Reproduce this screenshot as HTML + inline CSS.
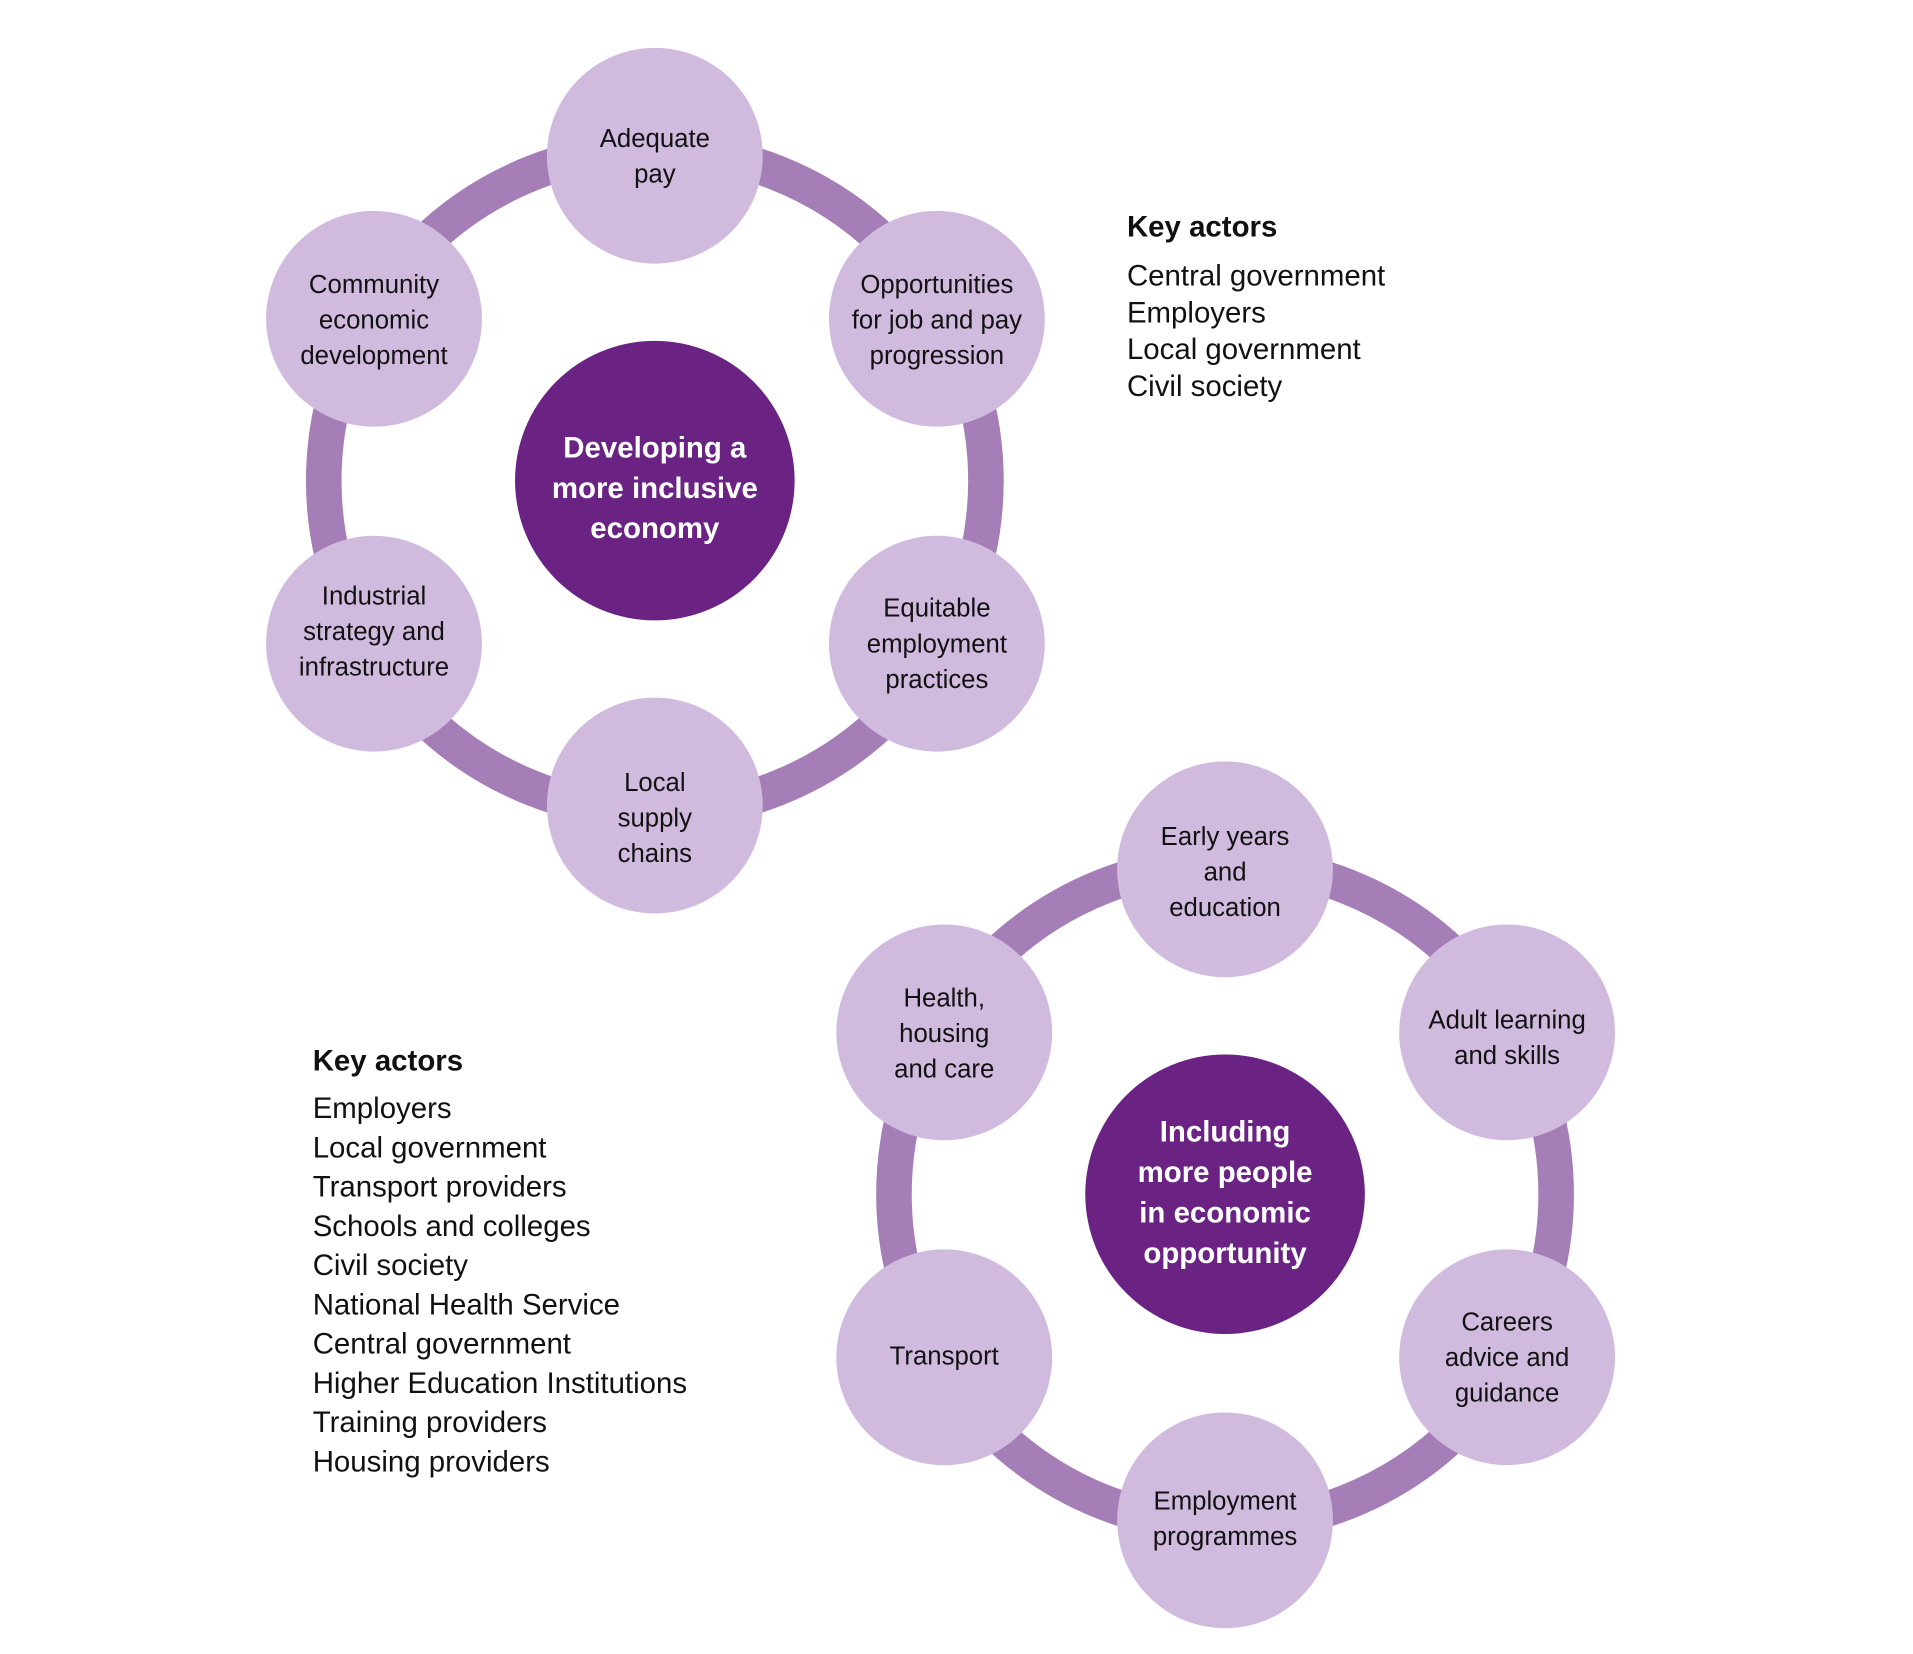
<!DOCTYPE html>
<html><head><meta charset="utf-8"><style>
html,body{margin:0;padding:0;background:#fff;}
svg{display:block;}
text{font-family:"Liberation Sans",sans-serif;}
.n{font-size:21px;fill:#111;text-anchor:middle;}
.c{font-size:24px;font-weight:bold;fill:#fff;text-anchor:middle;}
.k{font-size:24px;fill:#111;}
.h{font-size:24px;font-weight:bold;fill:#111;}
</style></head><body>
<svg width="1913" height="1654" viewBox="0 0 1560 1349" preserveAspectRatio="none" xmlns="http://www.w3.org/2000/svg">
<rect width="1560" height="1349" fill="#fff"/>
<!-- diagram 1 -->
<circle cx="534" cy="392" r="270" fill="none" stroke="#a57db7" stroke-width="29"/>
<g fill="#d0bade">
<circle cx="534" cy="127" r="88"/><circle cx="764" cy="260" r="88"/><circle cx="764" cy="525" r="88"/>
<circle cx="534" cy="657" r="88"/><circle cx="305" cy="525" r="88"/><circle cx="305" cy="260" r="88"/>
</g>
<circle cx="534" cy="392" r="114" fill="#6a2383"/>
<text class="n" x="534" y="120">Adequate<tspan x="534" dy="29">pay</tspan></text>
<text class="n" x="764" y="239">Opportunities<tspan x="764" dy="29">for job and pay</tspan><tspan x="764" dy="29">progression</tspan></text>
<text class="n" x="764" y="503">Equitable<tspan x="764" dy="29">employment</tspan><tspan x="764" dy="29">practices</tspan></text>
<text class="n" x="534" y="645">Local<tspan x="534" dy="29">supply</tspan><tspan x="534" dy="29">chains</tspan></text>
<text class="n" x="305" y="493">Industrial<tspan x="305" dy="29">strategy and</tspan><tspan x="305" dy="29">infrastructure</tspan></text>
<text class="n" x="305" y="239">Community<tspan x="305" dy="29">economic</tspan><tspan x="305" dy="29">development</tspan></text>
<text class="c" x="534" y="373">Developing a<tspan x="534" dy="33">more inclusive</tspan><tspan x="534" dy="33">economy</tspan></text>
<text class="h" x="919" y="193">Key actors</text>
<text class="k" x="919" y="233">Central government<tspan x="919" dy="30">Employers</tspan><tspan x="919" dy="30">Local government</tspan><tspan x="919" dy="30">Civil society</tspan></text>
<!-- diagram 2 -->
<circle cx="999" cy="974" r="270" fill="none" stroke="#a57db7" stroke-width="29"/>
<g fill="#d0bade">
<circle cx="999" cy="709" r="88"/><circle cx="1229" cy="842" r="88"/><circle cx="1229" cy="1107" r="88"/>
<circle cx="999" cy="1240" r="88"/><circle cx="770" cy="1107" r="88"/><circle cx="770" cy="842" r="88"/>
</g>
<circle cx="999" cy="974" r="114" fill="#6a2383"/>
<text class="n" x="999" y="689">Early years<tspan x="999" dy="29">and</tspan><tspan x="999" dy="29">education</tspan></text>
<text class="n" x="1229" y="839">Adult learning<tspan x="1229" dy="29">and skills</tspan></text>
<text class="n" x="1229" y="1085">Careers<tspan x="1229" dy="29">advice and</tspan><tspan x="1229" dy="29">guidance</tspan></text>
<text class="n" x="999" y="1231">Employment<tspan x="999" dy="29">programmes</tspan></text>
<text class="n" x="770" y="1113">Transport</text>
<text class="n" x="770" y="821">Health,<tspan x="770" dy="29">housing</tspan><tspan x="770" dy="29">and care</tspan></text>
<text class="c" x="999" y="931">Including<tspan x="999" dy="33">more people</tspan><tspan x="999" dy="33">in economic</tspan><tspan x="999" dy="33">opportunity</tspan></text>
<text class="h" x="255" y="873">Key actors</text>
<text class="k" x="255" y="912">Employers<tspan x="255" dy="32">Local government</tspan><tspan x="255" dy="32">Transport providers</tspan><tspan x="255" dy="32">Schools and colleges</tspan><tspan x="255" dy="32">Civil society</tspan><tspan x="255" dy="32">National Health Service</tspan><tspan x="255" dy="32">Central government</tspan><tspan x="255" dy="32">Higher Education Institutions</tspan><tspan x="255" dy="32">Training providers</tspan><tspan x="255" dy="32">Housing providers</tspan></text>
</svg>
</body></html>
